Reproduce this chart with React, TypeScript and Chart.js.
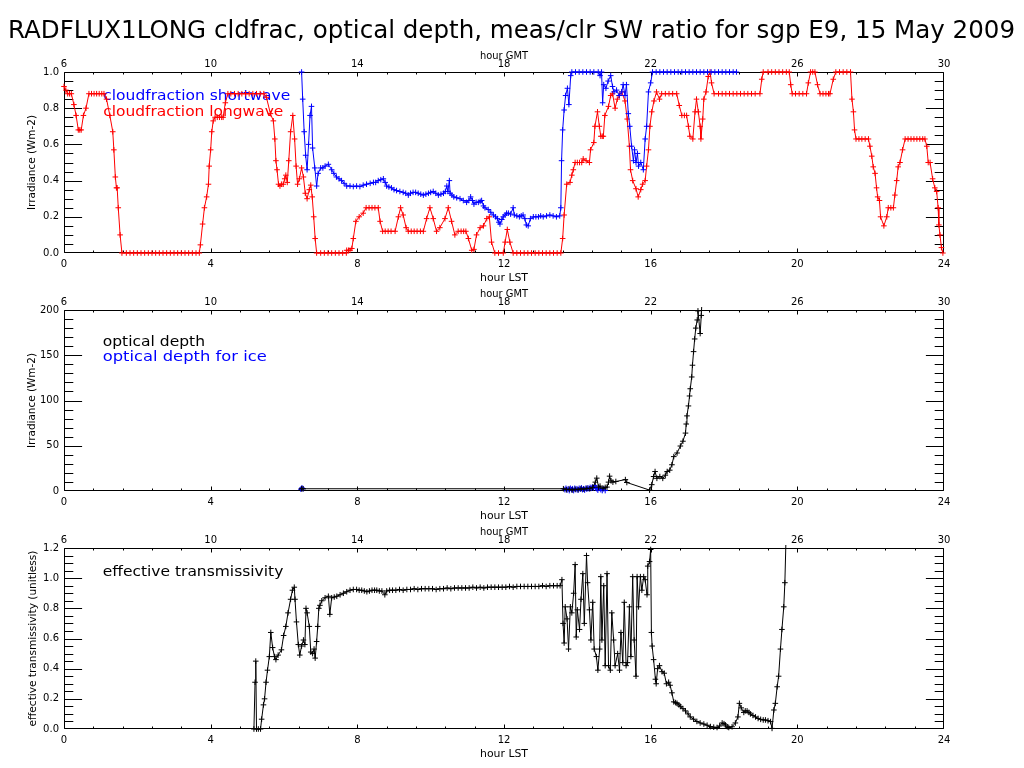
import React, { useEffect, useRef } from "react";
import { Chart, registerables } from "chart.js";

Chart.register(...registerables);

type Pt = [number, number | null];

const FONT = "'DejaVu Sans', 'Liberation Sans', sans-serif";
const TITLE = "RADFLUX1LONG cldfrac, optical depth, meas/clr SW ratio for sgp E9, 15 May 2009";

// ---- axis tick labels ----
const LST_TICKS = [0, 4, 8, 12, 16, 20, 24];
const GMT_TICKS = [6, 10, 14, 18, 22, 26, 30];
const CF_TICKS = [0, 0.2, 0.4, 0.6, 0.8, 1.0];
const OD_TICKS = [0, 50, 100, 150, 200];
const TR_TICKS = [0, 0.2, 0.4, 0.6, 0.8, 1.0, 1.2];

// ---- series: [hour LST, value] ----
const CF_LONGWAVE: Pt[] = [
  [0.0, 0.92], [0.05, 0.9], [0.1, 0.88], [0.15, 0.88], [0.2, 0.88], [0.27, 0.82], [0.33, 0.76], [0.39, 0.68], [0.43, 0.68], [0.47, 0.68],
  [0.53, 0.76], [0.6, 0.8], [0.68, 0.88], [0.75, 0.88], [0.82, 0.88], [0.89, 0.88], [0.96, 0.88], [1.03, 0.88], [1.09, 0.88], [1.16, 0.85],
  [1.25, 0.76], [1.33, 0.67], [1.36, 0.57], [1.4, 0.42], [1.43, 0.36], [1.45, 0.36], [1.48, 0.25], [1.53, 0.1], [1.58, 0.0],
  [1.7, 0], [1.8, 0], [1.9, 0], [2.0, 0], [2.1, 0], [2.2, 0], [2.3, 0], [2.4, 0], [2.5, 0], [2.6, 0], [2.7, 0], [2.8, 0], [2.9, 0],
  [3.0, 0], [3.1, 0], [3.2, 0], [3.3, 0], [3.4, 0], [3.5, 0], [3.6, 0], [3.69, 0],
  [3.72, 0.045], [3.78, 0.16], [3.83, 0.25], [3.89, 0.31], [3.94, 0.38], [3.96, 0.48], [4.0, 0.57], [4.03, 0.67], [4.07, 0.73], [4.12, 0.75],
  [4.18, 0.75], [4.24, 0.75], [4.3, 0.75], [4.34, 0.75], [4.4, 0.83], [4.47, 0.88],
  [4.55, 0.88], [4.65, 0.88], [4.75, 0.88], [4.85, 0.88], [4.95, 0.88], [5.05, 0.88], [5.15, 0.88], [5.25, 0.88], [5.35, 0.88], [5.45, 0.88],
  [5.52, 0.86], [5.63, 0.77], [5.71, 0.73], [5.75, 0.63], [5.78, 0.51], [5.81, 0.46], [5.85, 0.38], [5.89, 0.37], [5.93, 0.38], [5.98, 0.38],
  [6.02, 0.41], [6.05, 0.43], [6.09, 0.39], [6.13, 0.51], [6.18, 0.67], [6.24, 0.76], [6.29, 0.63], [6.33, 0.48], [6.37, 0.38], [6.42, 0.41],
  [6.48, 0.47], [6.53, 0.42], [6.58, 0.33], [6.63, 0.3], [6.69, 0.35], [6.73, 0.375], [6.77, 0.31], [6.81, 0.2], [6.85, 0.08], [6.89, 0.0],
  [7.0, 0], [7.1, 0], [7.2, 0], [7.3, 0], [7.4, 0], [7.5, 0], [7.6, 0], [7.7, 0], [7.71, 0.015], [7.76, 0.015], [7.8, 0.015], [7.85, 0.025],
  [7.89, 0.08], [7.96, 0.175], [8.05, 0.2], [8.16, 0.22], [8.24, 0.25], [8.32, 0.25], [8.4, 0.25], [8.48, 0.25], [8.57, 0.25], [8.62, 0.175],
  [8.69, 0.12], [8.76, 0.12], [8.84, 0.12], [8.92, 0.12], [9.03, 0.12], [9.12, 0.2], [9.18, 0.25], [9.25, 0.21], [9.33, 0.14], [9.39, 0.12],
  [9.47, 0.12], [9.55, 0.12], [9.63, 0.12], [9.72, 0.12], [9.8, 0.12], [9.89, 0.19], [9.98, 0.25], [10.07, 0.19], [10.16, 0.12], [10.25, 0.14],
  [10.39, 0.19], [10.48, 0.25], [10.57, 0.175], [10.66, 0.1], [10.75, 0.12], [10.83, 0.12], [10.9, 0.12], [10.96, 0.12], [11.03, 0.08], [11.12, 0.015],
  [11.18, 0.02], [11.25, 0.1], [11.35, 0.14], [11.44, 0.15], [11.53, 0.19], [11.6, 0.2], [11.66, 0.06], [11.75, 0], [11.85, 0], [11.98, 0],
  [12.03, 0.06], [12.09, 0.13], [12.16, 0.06], [12.25, 0],
  [12.35, 0], [12.45, 0], [12.55, 0], [12.65, 0], [12.75, 0], [12.85, 0], [12.95, 0], [13.05, 0], [13.15, 0], [13.25, 0], [13.35, 0], [13.45, 0], [13.55, 0],
  [13.6, 0.08], [13.64, 0.21], [13.71, 0.38], [13.8, 0.39], [13.85, 0.43], [13.89, 0.46], [13.94, 0.5], [14.0, 0.5], [14.06, 0.5], [14.12, 0.5],
  [14.16, 0.52], [14.24, 0.51], [14.33, 0.5], [14.36, 0.57], [14.45, 0.61], [14.48, 0.7], [14.55, 0.78], [14.6, 0.7], [14.64, 0.645], [14.68, 0.645],
  [14.71, 0.645], [14.75, 0.76], [14.85, 0.81], [14.91, 0.87], [14.96, 0.88], [15.03, 0.8], [15.09, 0.85], [15.15, 0.87], [15.21, 0.89], [15.3, 0.84],
  [15.36, 0.74], [15.42, 0.59], [15.45, 0.46], [15.51, 0.4], [15.6, 0.355], [15.66, 0.31], [15.73, 0.35], [15.78, 0.38], [15.85, 0.4], [15.89, 0.48],
  [15.94, 0.57], [15.98, 0.7], [16.03, 0.78], [16.09, 0.84], [16.16, 0.89], [16.24, 0.85], [16.3, 0.88], [16.4, 0.88], [16.5, 0.88], [16.6, 0.88],
  [16.71, 0.88], [16.78, 0.815], [16.85, 0.76], [16.92, 0.76], [16.98, 0.76], [17.03, 0.7], [17.07, 0.645], [17.15, 0.63], [17.21, 0.78], [17.25, 0.85],
  [17.3, 0.78], [17.35, 0.7], [17.37, 0.63], [17.42, 0.74], [17.45, 0.85], [17.51, 0.89], [17.57, 0.975], [17.62, 1.0], [17.66, 0.94], [17.73, 0.88],
  [17.85, 0.88], [17.95, 0.88], [18.05, 0.88], [18.15, 0.88], [18.25, 0.88], [18.35, 0.88], [18.45, 0.88], [18.55, 0.88], [18.65, 0.88], [18.75, 0.88],
  [18.85, 0.88], [18.98, 0.88], [19.03, 0.96], [19.07, 1.0], [19.2, 1.0], [19.3, 1.0], [19.4, 1.0], [19.5, 1.0], [19.6, 1.0], [19.7, 1.0],
  [19.78, 1.0], [19.82, 0.93], [19.86, 0.88], [19.95, 0.88], [20.05, 0.88], [20.15, 0.88], [20.25, 0.88], [20.3, 0.94], [20.36, 1.0], [20.42, 1.0],
  [20.48, 1.0], [20.55, 0.93], [20.62, 0.88], [20.7, 0.88], [20.78, 0.88], [20.85, 0.88], [20.89, 0.88], [20.98, 0.96], [21.05, 1.0], [21.15, 1.0],
  [21.25, 1.0], [21.35, 1.0], [21.45, 1.0], [21.49, 0.85], [21.53, 0.78], [21.56, 0.68], [21.6, 0.63], [21.68, 0.63], [21.76, 0.63], [21.85, 0.63],
  [21.94, 0.63], [21.98, 0.59], [22.03, 0.535], [22.07, 0.476], [22.12, 0.44], [22.16, 0.36], [22.19, 0.31], [22.24, 0.29], [22.27, 0.2], [22.36, 0.15],
  [22.44, 0.2], [22.48, 0.25], [22.55, 0.25], [22.62, 0.25], [22.66, 0.32], [22.71, 0.4], [22.75, 0.476], [22.8, 0.5], [22.87, 0.57], [22.94, 0.63],
  [23.02, 0.63], [23.1, 0.63], [23.18, 0.63], [23.26, 0.63], [23.34, 0.63], [23.42, 0.63], [23.48, 0.63], [23.53, 0.59], [23.57, 0.5], [23.62, 0.5],
  [23.69, 0.41], [23.75, 0.36], [23.8, 0.34], [23.84, 0.25], [23.86, 0.155], [23.89, 0.1], [23.93, 0.03], [23.97, 0.0],
];

const CF_SHORTWAVE: Pt[] = [
  [6.48, 1.0], [6.51, 0.85], [6.55, 0.67], [6.59, 0.54], [6.63, 0.46], [6.67, 0.6], [6.71, 0.76], [6.75, 0.81], [6.78, 0.58], [6.84, 0.47],
  [6.89, 0.37], [6.93, 0.44], [7.0, 0.47], [7.06, 0.47], [7.12, 0.48], [7.21, 0.49], [7.3, 0.46], [7.36, 0.44], [7.43, 0.42], [7.5, 0.41],
  [7.57, 0.4], [7.64, 0.385], [7.71, 0.37], [7.8, 0.37], [7.89, 0.367], [7.98, 0.37], [8.07, 0.367], [8.16, 0.375], [8.25, 0.38], [8.35, 0.385],
  [8.44, 0.39], [8.5, 0.39], [8.57, 0.4], [8.64, 0.405], [8.71, 0.41], [8.76, 0.39], [8.8, 0.37], [8.86, 0.365], [8.93, 0.36], [9.0, 0.35],
  [9.07, 0.345], [9.16, 0.34], [9.25, 0.335], [9.32, 0.33], [9.39, 0.32], [9.45, 0.33], [9.52, 0.335], [9.59, 0.335], [9.66, 0.33], [9.73, 0.325],
  [9.8, 0.32], [9.87, 0.325], [9.94, 0.33], [10.0, 0.335], [10.07, 0.34], [10.14, 0.33], [10.21, 0.32], [10.28, 0.325], [10.35, 0.33], [10.4, 0.34],
  [10.44, 0.37], [10.47, 0.34], [10.51, 0.4], [10.53, 0.33], [10.58, 0.32], [10.63, 0.31], [10.71, 0.305], [10.8, 0.3], [10.89, 0.29], [10.98, 0.28],
  [11.04, 0.29], [11.09, 0.31], [11.14, 0.29], [11.18, 0.27], [11.24, 0.28], [11.3, 0.28], [11.35, 0.285], [11.39, 0.29], [11.44, 0.26], [11.48, 0.25],
  [11.57, 0.24], [11.64, 0.225], [11.71, 0.21], [11.77, 0.2], [11.82, 0.19], [11.86, 0.17], [11.89, 0.16], [11.94, 0.185], [11.98, 0.2], [12.03, 0.21],
  [12.07, 0.22], [12.12, 0.22], [12.18, 0.215], [12.25, 0.25], [12.28, 0.21], [12.35, 0.205], [12.42, 0.2], [12.47, 0.205], [12.52, 0.21], [12.57, 0.19],
  [12.61, 0.155], [12.66, 0.15], [12.72, 0.19], [12.8, 0.2], [12.87, 0.2], [12.94, 0.2], [13.0, 0.205], [13.07, 0.2], [13.16, 0.205], [13.25, 0.21],
  [13.34, 0.205], [13.43, 0.2], [13.52, 0.205], [13.55, 0.25], [13.57, 0.51], [13.6, 0.68], [13.64, 0.79], [13.68, 0.87], [13.73, 0.91], [13.77, 0.82],
  [13.82, 0.98], [13.85, 1.0], [13.95, 1.0], [14.05, 1.0], [14.15, 1.0], [14.25, 1.0], [14.35, 1.0], [14.45, 1.0], [14.57, 1.0], [14.62, 0.98],
  [14.66, 1.0], [14.69, 0.83], [14.72, 0.93], [14.78, 0.91], [14.84, 0.95], [14.91, 0.98], [14.96, 0.92], [15.0, 0.89], [15.07, 0.9], [15.14, 0.87],
  [15.21, 0.89], [15.25, 0.93], [15.3, 0.87], [15.34, 0.93], [15.39, 0.77], [15.43, 0.7], [15.48, 0.59], [15.53, 0.51], [15.56, 0.57], [15.6, 0.5],
  [15.64, 0.55], [15.67, 0.48], [15.73, 0.5], [15.8, 0.46], [15.85, 0.63], [15.89, 0.7], [15.94, 0.89], [16.0, 0.94], [16.05, 1.0], [16.15, 1.0],
  [16.25, 1.0], [16.35, 1.0], [16.45, 1.0], [16.55, 1.0], [16.65, 1.0], [16.75, 1.0], [16.85, 1.0], [16.95, 1.0], [17.05, 1.0], [17.15, 1.0],
  [17.25, 1.0], [17.35, 1.0], [17.45, 1.0], [17.55, 1.0], [17.65, 1.0], [17.75, 1.0], [17.85, 1.0], [17.95, 1.0], [18.05, 1.0], [18.15, 1.0],
  [18.25, 1.0], [18.34, 1.0],
];

const OPTICAL_DEPTH: Pt[] = [
  [6.48, 2.5], [6.52, 2.5], [13.62, 2.5], [13.7, 1.5], [13.78, 2.0], [13.86, 1.0], [13.94, 2.0], [14.02, 1.5], [14.1, 2.5], [14.18, 2.0],
  [14.26, 3.0], [14.34, 2.5], [14.42, 4.0], [14.49, 9.8], [14.53, 14.2], [14.58, 4.3], [14.62, 5.4], [14.7, 3.0], [14.76, 4.0], [14.81, 4.3],
  [14.85, 9.8], [14.88, 16.4], [14.92, 11.2], [14.97, 9.8], [15.05, 10.5], [15.31, 12.6], [15.35, 9.4], [15.97, 1.0], [16.03, 7], [16.08, 16],
  [16.12, 21.5], [16.17, 14], [16.25, 16], [16.33, 14], [16.4, 17.5], [16.45, 21.5], [16.52, 23], [16.58, 29], [16.63, 38], [16.72, 42],
  [16.81, 49.7], [16.88, 55], [16.95, 64], [16.97, 74], [16.99, 83], [17.03, 94], [17.06, 105], [17.08, 113], [17.12, 126], [17.14, 139],
  [17.17, 154], [17.2, 168], [17.23, 180], [17.27, 189], [17.29, 199], [17.35, 174], [17.38, 194], [17.41, 218],
];

const OPTICAL_DEPTH_ICE: Pt[] = [
  [6.46, 2], [6.49, 3.5], [6.52, 2.5], [6.56, null],
  [13.66, 1.5], [13.69, 3], [13.72, 1], [13.75, 2.5], [13.78, 0.5], [13.81, 3], [13.84, 1.5], [13.87, 2.5], [13.9, 0.5], [13.93, 3],
  [13.96, 1.5], [13.99, 2.5], [14.02, 1], [14.05, 3], [14.08, 2], [14.11, 3.5], [14.14, 1.5], [14.17, 2.5], [14.2, 1], [14.23, 3],
  [14.26, 2], [14.29, 3.5], [14.32, 2.5], [14.35, 4], [14.38, 3], [14.41, 4.5], [14.44, 3.5], [14.47, 6], [14.5, 4], [14.53, 2.5],
  [14.56, 1], [14.6, 3], [14.64, 1.5], [14.68, 0.5], [14.72, 2.5], [14.76, 0.5],
];

const TRANSMISSIVITY: Pt[] = [
  [5.18, 0], [5.21, 0.31], [5.23, 0.45], [5.25, 0], [5.3, 0], [5.36, 0], [5.39, 0.065], [5.44, 0.16], [5.47, 0.2], [5.51, 0.31],
  [5.55, 0.39], [5.6, 0.48], [5.64, 0.64], [5.69, 0.54], [5.74, 0.48], [5.78, 0.46], [5.84, 0.49], [5.93, 0.525], [5.99, 0.62], [6.05, 0.68],
  [6.11, 0.77], [6.18, 0.86], [6.23, 0.92], [6.28, 0.94], [6.3, 0.86], [6.34, 0.71], [6.39, 0.56], [6.43, 0.49], [6.48, 0.55], [6.53, 0.59],
  [6.57, 0.56], [6.6, 0.8], [6.63, 0.77], [6.69, 0.68], [6.73, 0.51], [6.78, 0.5], [6.82, 0.53], [6.85, 0.47], [6.89, 0.58], [6.92, 0.68],
  [6.95, 0.8], [6.98, 0.82], [7.03, 0.85], [7.12, 0.87], [7.21, 0.88], [7.25, 0.76], [7.3, 0.87], [7.37, 0.875], [7.44, 0.88], [7.53, 0.89],
  [7.62, 0.9], [7.71, 0.91], [7.8, 0.92], [7.89, 0.925], [7.98, 0.925], [8.05, 0.92], [8.12, 0.92], [8.19, 0.915], [8.26, 0.91], [8.33, 0.915],
  [8.4, 0.92], [8.47, 0.92], [8.53, 0.92], [8.6, 0.915], [8.67, 0.915], [8.75, 0.89], [8.8, 0.915], [8.88, 0.92], [8.96, 0.92], [9.05, 0.92],
  [9.15, 0.925], [9.25, 0.92], [9.35, 0.925], [9.45, 0.925], [9.55, 0.93], [9.65, 0.925], [9.75, 0.93], [9.85, 0.93], [9.95, 0.93], [10.05, 0.93],
  [10.15, 0.925], [10.25, 0.93], [10.35, 0.93], [10.45, 0.935], [10.55, 0.93], [10.65, 0.935], [10.75, 0.935], [10.85, 0.935], [10.95, 0.935], [11.05, 0.935],
  [11.15, 0.94], [11.25, 0.935], [11.35, 0.94], [11.45, 0.935], [11.55, 0.94], [11.65, 0.94], [11.75, 0.94], [11.85, 0.94], [11.95, 0.94], [12.05, 0.94],
  [12.15, 0.945], [12.25, 0.94], [12.35, 0.945], [12.45, 0.945], [12.55, 0.945], [12.65, 0.945], [12.75, 0.945], [12.85, 0.945], [12.95, 0.945], [13.05, 0.95],
  [13.15, 0.945], [13.25, 0.95], [13.35, 0.95], [13.45, 0.95], [13.53, 0.95],
  [13.58, 0.99], [13.61, 0.7], [13.64, 0.57], [13.67, 0.81], [13.72, 0.73], [13.76, 0.53], [13.81, 0.81], [13.85, 0.77], [13.9, 0.9], [13.94, 1.09],
  [13.97, 0.61], [14.0, 0.79], [14.06, 0.66], [14.1, 0.86], [14.15, 1.03], [14.19, 0.7], [14.25, 1.15], [14.28, 0.97], [14.33, 0.79], [14.37, 0.59],
  [14.42, 0.84], [14.46, 0.53], [14.52, 0.48], [14.56, 0.39], [14.61, 0.53], [14.64, 1.01], [14.67, 0.59], [14.72, 0.95], [14.76, 0.42], [14.81, 1.03],
  [14.85, 0.42], [14.9, 0.39], [14.94, 0.77], [14.99, 0.59], [15.03, 0.42], [15.1, 0.5], [15.15, 0.39], [15.19, 0.64], [15.24, 0.44], [15.28, 0.84],
  [15.33, 0.42], [15.37, 0.44], [15.42, 0.81], [15.46, 0.48], [15.51, 1.01], [15.55, 0.59], [15.6, 0.35], [15.63, 1.01], [15.67, 0.81], [15.72, 1.01],
  [15.76, 0.92], [15.81, 1.01], [15.85, 0.99], [15.9, 0.89], [15.92, 1.08], [15.97, 1.11], [16.0, 1.19], [16.02, 0.64], [16.04, 0.55], [16.08, 0.46],
  [16.13, 0.33], [16.15, 0.3], [16.19, 0.4], [16.24, 0.42], [16.31, 0.38], [16.37, 0.37], [16.43, 0.3], [16.49, 0.31], [16.53, 0.29], [16.58, 0.24],
  [16.63, 0.18], [16.68, 0.175], [16.72, 0.17], [16.77, 0.16], [16.81, 0.15], [16.88, 0.135], [16.95, 0.12], [17.02, 0.1], [17.08, 0.08], [17.17, 0.065],
  [17.26, 0.05], [17.35, 0.04], [17.45, 0.033], [17.54, 0.025], [17.63, 0.016], [17.72, 0.012], [17.81, 0.01], [17.88, 0.02], [17.95, 0.04], [18.0, 0.035],
  [18.04, 0.027], [18.09, 0.015], [18.13, 0.01], [18.22, 0.015], [18.31, 0.04], [18.38, 0.08], [18.42, 0.17], [18.47, 0.14], [18.54, 0.11], [18.58, 0.12],
  [18.63, 0.12], [18.68, 0.11], [18.72, 0.1], [18.79, 0.09], [18.86, 0.08], [18.93, 0.07], [19.0, 0.064], [19.07, 0.06], [19.13, 0.06], [19.2, 0.055],
  [19.27, 0.049], [19.31, 0.004], [19.36, 0.126], [19.4, 0.17], [19.45, 0.28], [19.49, 0.35], [19.54, 0.53], [19.58, 0.66], [19.63, 0.81], [19.66, 0.97],
  [19.69, 1.25],
];

// ---- tick geometry (IDL style) ----
const X_MINOR_STEP = 0.8;
const X_MINOR_PER_MAJOR = 5;
const X_MAJOR_LEN = 4;
const Y_MAJOR_LEN = 17.6;

interface TextItem {
  text: string;
  x: number;
  y: number;
  w: number;
  size: number;
  color: string;
  rot?: number;
}

interface SeriesCfg {
  points: Pt[];
  color: string;
}

interface PanelCfg {
  top: number;
  bottom: number;
  yMax: number;
  yTicks: number[];
  yMinorStep: number;
  yMinorPerMajor: number;
  yFmt: (v: number) => string;
  series: SeriesCfg[];
  texts: TextItem[];
}

const PLOT_LEFT = 64;
const PLOT_RIGHT = 944;
const CX = (PLOT_LEFT + PLOT_RIGHT) / 2;

const BLUE = "#0000ff";
const RED = "#ff0000";
const BLACK = "#000000";

function axisTexts(top: number, bottom: number): TextItem[] {
  return [
    { text: "hour GMT", x: CX - 24, y: top - 13.5, w: 48, size: 11, color: BLACK },
    { text: "hour LST", x: CX - 24, y: bottom + 27.5, w: 48, size: 11, color: BLACK },
  ];
}

const PANELS: PanelCfg[] = [
  {
    top: 72,
    bottom: 253,
    yMax: 1.0,
    yTicks: CF_TICKS,
    yMinorStep: 0.05,
    yMinorPerMajor: 4,
    yFmt: (v) => v.toFixed(1),
    series: [
      { points: CF_SHORTWAVE, color: BLUE },
      { points: CF_LONGWAVE, color: RED },
    ],
    texts: [
      { text: TITLE, x: 8, y: 37.5, w: 1007, size: 24, color: BLACK },
      ...axisTexts(72, 253),
      { text: "Irradiance (Wm-2)", x: 35, y: 162.5 + 47.5, w: 95, size: 10.5, color: BLACK, rot: -Math.PI / 2 },
      { text: "cloudfraction shortwave", x: 103.3, y: 100, w: 187, size: 14, color: BLUE },
      { text: "cloudfraction longwave", x: 103.3, y: 115.7, w: 180, size: 14, color: RED },
    ],
  },
  {
    top: 310,
    bottom: 491,
    yMax: 200,
    yTicks: OD_TICKS,
    yMinorStep: 10,
    yMinorPerMajor: 5,
    yFmt: (v) => String(Math.round(v)),
    series: [
      { points: OPTICAL_DEPTH, color: BLACK },
      { points: OPTICAL_DEPTH_ICE, color: BLUE },
    ],
    texts: [
      ...axisTexts(310, 491),
      { text: "Irradiance (Wm-2)", x: 35, y: 400.5 + 47.5, w: 95, size: 10.5, color: BLACK, rot: -Math.PI / 2 },
      { text: "optical depth", x: 102.7, y: 345.5, w: 102.3, size: 14, color: BLACK },
      { text: "optical depth for ice", x: 102.7, y: 361, w: 164, size: 14, color: BLUE },
    ],
  },
  {
    top: 548,
    bottom: 729,
    yMax: 1.2,
    yTicks: TR_TICKS,
    yMinorStep: 0.05,
    yMinorPerMajor: 4,
    yFmt: (v) => v.toFixed(1),
    series: [{ points: TRANSMISSIVITY, color: BLACK }],
    texts: [
      ...axisTexts(548, 729),
      { text: "effective transmissivity (unitless)", x: 35.5, y: 638.5 + 88, w: 176, size: 10, color: BLACK, rot: -Math.PI / 2 },
      { text: "effective transmissivity", x: 102.7, y: 576, w: 180.6, size: 14, color: BLACK },
    ],
  },
];

function drawFitted(ctx: CanvasRenderingContext2D, t: TextItem) {
  ctx.save();
  ctx.font = `${t.size}px ${FONT}`;
  const m = ctx.measureText(t.text).width || 1;
  ctx.translate(t.x, t.y);
  if (t.rot) ctx.rotate(t.rot);
  ctx.scale(t.w / m, 1);
  ctx.fillStyle = t.color;
  ctx.textAlign = "left";
  ctx.textBaseline = "alphabetic";
  ctx.fillText(t.text, 0, 0);
  ctx.restore();
}

function makeChart(canvas: HTMLCanvasElement, cfg: PanelCfg) {
  const framePlugin = {
    id: "idlFrame",
    beforeDatasetsDraw(chart: any) {
      const ctx: CanvasRenderingContext2D = chart.ctx;
      const { left, right, top, bottom } = chart.chartArea;
      const xs = chart.scales.x;
      const ys = chart.scales.y;
      const L = Math.round(left) + 0.5;
      const R = Math.round(right) - 0.5;
      const T = Math.round(top) + 0.5;
      const B = Math.round(bottom) - 0.5;
      const clampX = (v: number) => Math.min(Math.max(v, L), R);
      const clampY = (v: number) => Math.min(Math.max(v, T), B);
      ctx.save();
      ctx.strokeStyle = BLACK;
      ctx.lineWidth = 1;
      ctx.beginPath();
      ctx.rect(L, T, R - L, B - T);
      for (let k = 0; k * X_MINOR_STEP <= 24 + 1e-6; k++) {
        const px = clampX(Math.round(xs.getPixelForValue(k * X_MINOR_STEP)) + 0.5);
        const len = k % X_MINOR_PER_MAJOR === 0 ? X_MAJOR_LEN : X_MAJOR_LEN / 2;
        ctx.moveTo(px, B);
        ctx.lineTo(px, B - len);
        ctx.moveTo(px, T);
        ctx.lineTo(px, T + len);
      }
      for (let k = 0; k * cfg.yMinorStep <= cfg.yMax + 1e-6; k++) {
        const py = clampY(Math.round(ys.getPixelForValue(k * cfg.yMinorStep)) + 0.5);
        const len = k % cfg.yMinorPerMajor === 0 ? Y_MAJOR_LEN : Y_MAJOR_LEN / 2;
        ctx.moveTo(L, py);
        ctx.lineTo(L + len, py);
        ctx.moveTo(R, py);
        ctx.lineTo(R - len, py);
      }
      ctx.stroke();
      for (const t of cfg.texts) drawFitted(ctx, t);
      ctx.restore();
    },
  };

  const tickFont = { family: FONT, size: 10 };

  return new Chart(canvas, {
    type: "line",
    data: {
      datasets: cfg.series.map((s) => ({
        data: s.points.map(([x, y]) => ({ x, y })),
        borderColor: s.color,
        backgroundColor: s.color,
        pointBorderColor: s.color,
        pointBackgroundColor: s.color,
        pointStyle: "cross",
        pointRadius: 2.8,
        pointBorderWidth: 1,
        borderWidth: 1,
        tension: 0,
        fill: false,
        spanGaps: false,
        clip: 3,
        xAxisID: "x",
        yAxisID: "y",
      })),
    },
    options: {
      responsive: false,
      animation: false,
      devicePixelRatio: 1,
      events: [],
      layout: {
        padding: {
          left: 0,
          right: 1024 - PLOT_RIGHT,
          top: cfg.top - 30,
          bottom: 768 - cfg.bottom - 30,
        },
      },
      plugins: {
        legend: { display: false },
        tooltip: { enabled: false },
        title: { display: false },
      },
      scales: {
        x: {
          type: "linear",
          position: "bottom",
          min: 0,
          max: 24,
          grid: { display: false, drawTicks: false },
          border: { display: false },
          ticks: { font: tickFont, color: BLACK, padding: 5, autoSkip: false, maxRotation: 0, callback: (v: any) => String(v) },
          afterBuildTicks: (scale: any) => {
            scale.ticks = LST_TICKS.map((value) => ({ value }));
          },
          afterFit: (scale: any) => {
            scale.height = 30;
          },
        },
        x2: {
          type: "linear",
          position: "top",
          min: 6,
          max: 30,
          grid: { display: false, drawTicks: false },
          border: { display: false },
          ticks: { font: tickFont, color: BLACK, padding: 2, autoSkip: false, maxRotation: 0, callback: (v: any) => String(v) },
          afterBuildTicks: (scale: any) => {
            scale.ticks = GMT_TICKS.map((value) => ({ value }));
          },
          afterFit: (scale: any) => {
            scale.height = 30;
          },
        },
        y: {
          type: "linear",
          position: "left",
          min: 0,
          max: cfg.yMax,
          grid: { display: false, drawTicks: false },
          border: { display: false },
          ticks: { font: tickFont, color: BLACK, padding: 5, autoSkip: false, callback: (v: any) => cfg.yFmt(Number(v)) },
          afterBuildTicks: (scale: any) => {
            scale.ticks = cfg.yTicks.map((value) => ({ value }));
          },
          afterFit: (scale: any) => {
            scale.width = PLOT_LEFT;
          },
        },
      },
    } as any,
    plugins: [framePlugin as any],
  });
}

function Panel({ cfg }: { cfg: PanelCfg }) {
  const ref = useRef<HTMLCanvasElement | null>(null);
  useEffect(() => {
    if (!ref.current) return;
    const chart = makeChart(ref.current, cfg);
    return () => chart.destroy();
  }, [cfg]);
  return (
    <canvas
      ref={ref}
      width={1024}
      height={768}
      style={{ position: "absolute", left: 0, top: 0, width: 1024, height: 768 }}
    />
  );
}

export default function App() {
  return (
    <div
      style={{
        position: "absolute",
        left: 0,
        top: 0,
        width: 1024,
        height: 768,
        background: "#ffffff",
        overflow: "hidden",
      }}
    >
      {PANELS.map((p, i) => (
        <Panel key={i} cfg={p} />
      ))}
    </div>
  );
}
